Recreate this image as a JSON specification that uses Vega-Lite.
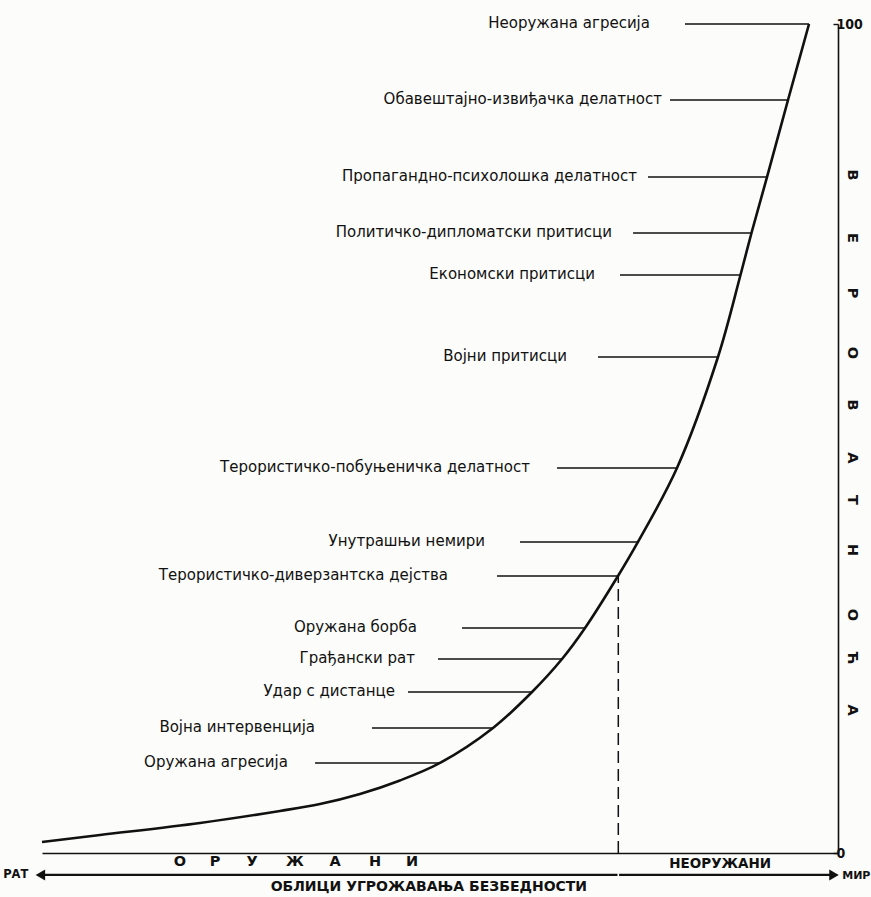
{
  "$schema": "https://vega.github.io/schema/vega-lite/v6.json",
  "width": 796,
  "height": 829,
  "autosize": {"type": "none"},
  "padding": {"left": 42, "top": 24, "right": 33, "bottom": 44},
  "background": "#fcfcfa",
  "config": {
    "view": {"stroke": null},
    "font": "DejaVu Sans",
    "axisY": {"labelFontSize": 14, "labelFont": "DejaVu Sans Condensed", "labelFontWeight": "bold", "labelColor": "#111"}
  },
  "datasets": {
    "curve": [
      {"x": 0, "y": 1.33},
      {"x": 7.29, "y": 2.17},
      {"x": 19.85, "y": 3.62},
      {"x": 29.9, "y": 5.07},
      {"x": 34.92, "y": 5.91},
      {"x": 39.95, "y": 7.12},
      {"x": 44.97, "y": 8.75},
      {"x": 50.0, "y": 10.86},
      {"x": 56.66, "y": 15.08},
      {"x": 61.56, "y": 19.42},
      {"x": 65.33, "y": 23.4},
      {"x": 68.22, "y": 27.14},
      {"x": 72.36, "y": 33.41},
      {"x": 74.87, "y": 37.52},
      {"x": 79.77, "y": 46.44},
      {"x": 84.92, "y": 59.83},
      {"x": 87.75, "y": 69.72},
      {"x": 89.13, "y": 74.79},
      {"x": 91.08, "y": 81.54},
      {"x": 93.72, "y": 90.83},
      {"x": 96.36, "y": 100}
    ],
    "forms": [
      {"label": "Неоружана агресија", "y": 100, "x0": 80.78, "x1": 96.36, "lx": 76.38},
      {"label": "Обавештајно-извиђачка делатност", "y": 90.83, "x0": 78.89, "x1": 93.72, "lx": 77.89},
      {"label": "Пропагандно-психолошка делатност", "y": 81.54, "x0": 76.13, "x1": 91.08, "lx": 74.75},
      {"label": "Политичко-дипломатски притисци", "y": 74.79, "x0": 74.25, "x1": 89.13, "lx": 71.61},
      {"label": "Економски притисци", "y": 69.72, "x0": 72.61, "x1": 87.75, "lx": 69.47},
      {"label": "Војни притисци", "y": 59.83, "x0": 69.85, "x1": 84.92, "lx": 65.95},
      {"label": "Терористичко-побуњеничка делатност", "y": 46.44, "x0": 64.7, "x1": 79.77, "lx": 61.31},
      {"label": "Унутрашњи немири", "y": 37.52, "x0": 60.05, "x1": 74.87, "lx": 55.65},
      {"label": "Терористичко-диверзантска дејства", "y": 33.41, "x0": 57.16, "x1": 72.36, "lx": 51.0},
      {"label": "Оружана борба", "y": 27.14, "x0": 52.76, "x1": 68.22, "lx": 47.11},
      {"label": "Грађански рат", "y": 23.4, "x0": 49.75, "x1": 65.33, "lx": 46.86},
      {"label": "Удар с дистанце", "y": 19.42, "x0": 45.98, "x1": 61.56, "lx": 44.35},
      {"label": "Војна интервенција", "y": 15.08, "x0": 41.46, "x1": 56.66, "lx": 34.3},
      {"label": "Оружана агресија", "y": 10.86, "x0": 34.3, "x1": 50.0, "lx": 30.9}
    ],
    "divider": [{"x": 72.4, "y": 0, "y2": 33.41}],
    "arrow": [
      {"x": 0, "x2": 72.3, "y": -2.65},
      {"x": 72.5, "x2": 99.6, "y": -2.65}
    ],
    "heads": [
      {"x": -0.2, "y": -2.65, "shape": "triangle-left"},
      {"x": 99.5, "y": -2.65, "shape": "triangle-right"}
    ],
    "armed": [
      {"t": "О", "x": 17.34},
      {"t": "Р", "x": 21.73},
      {"t": "У", "x": 26.38},
      {"t": "Ж", "x": 31.78},
      {"t": "А", "x": 36.81},
      {"t": "Н", "x": 41.83},
      {"t": "И", "x": 46.48}
    ],
    "bottomText": [
      {"t": "НЕОРУЖАНИ", "x": 85.2, "y": -1.3, "size": 13.5},
      {"t": "ОБЛИЦИ УГРОЖАВАЊА БЕЗБЕДНОСТИ", "x": 48.6, "y": -4.1, "size": 14},
      {"t": "РАТ", "x": -3.3, "y": -2.7, "size": 11.5},
      {"t": "МИР", "x": 102.3, "y": -2.75, "size": 11}
    ],
    "vtitle": [
      {"t": "В", "y": 81.79},
      {"t": "Е", "y": 74.19},
      {"t": "Р", "y": 67.55},
      {"t": "О", "y": 60.31},
      {"t": "В", "y": 54.04},
      {"t": "А", "y": 47.65},
      {"t": "Т", "y": 42.58},
      {"t": "Н", "y": 36.55},
      {"t": "О", "y": 28.71},
      {"t": "Ћ", "y": 23.52},
      {"t": "А", "y": 17.25}
    ]
  },
  "layer": [
    {
      "data": {"name": "curve"},
      "mark": {"type": "line", "interpolate": "catmull-rom", "color": "#111", "strokeWidth": 2.6, "clip": false},
      "encoding": {
        "x": {"field": "x", "type": "quantitative", "scale": {"domain": [0, 100], "nice": false, "zero": false},
              "axis": {"orient": "bottom", "labels": false, "ticks": false, "title": null, "grid": false, "domainColor": "#111", "domainWidth": 1.6}},
        "y": {"field": "y", "type": "quantitative", "scale": {"domain": [0, 100], "nice": false, "zero": false},
              "axis": {"orient": "right", "values": [0, 100], "title": null, "grid": false, "domainColor": "#111", "domainWidth": 1.6,
                       "tickColor": "#111", "tickSize": -5, "tickWidth": 1.4, "labelPadding": 3}}
      }
    },
    {
      "data": {"name": "forms"},
      "mark": {"type": "rule", "color": "#111", "strokeWidth": 1.5},
      "encoding": {
        "x": {"field": "x0", "type": "quantitative"},
        "x2": {"field": "x1"},
        "y": {"field": "y", "type": "quantitative"}
      }
    },
    {
      "data": {"name": "forms"},
      "mark": {"type": "text", "align": "right", "baseline": "middle", "fontSize": 15, "color": "#111", "dy": -1},
      "encoding": {
        "x": {"field": "lx", "type": "quantitative"},
        "y": {"field": "y", "type": "quantitative"},
        "text": {"field": "label"}
      }
    },
    {
      "data": {"name": "divider"},
      "mark": {"type": "rule", "color": "#111", "strokeWidth": 1.5, "strokeDash": [12, 6]},
      "encoding": {
        "x": {"field": "x", "type": "quantitative"},
        "y": {"field": "y", "type": "quantitative"},
        "y2": {"field": "y2"}
      }
    },
    {
      "data": {"name": "arrow"},
      "mark": {"type": "rule", "color": "#111", "strokeWidth": 2.2, "clip": false},
      "encoding": {
        "x": {"field": "x", "type": "quantitative"},
        "x2": {"field": "x2"},
        "y": {"field": "y", "type": "quantitative"}
      }
    },
    {
      "data": {"name": "heads"},
      "mark": {"type": "point", "filled": true, "color": "#111", "size": 120, "opacity": 1, "clip": false},
      "encoding": {
        "x": {"field": "x", "type": "quantitative"},
        "y": {"field": "y", "type": "quantitative"},
        "shape": {"field": "shape", "type": "nominal", "scale": null, "legend": null}
      }
    },
    {
      "data": {"name": "armed"},
      "mark": {"type": "text", "align": "center", "baseline": "middle", "fontSize": 14.5, "fontWeight": "bold", "color": "#111", "clip": false},
      "encoding": {
        "x": {"field": "x", "type": "quantitative"},
        "y": {"datum": -1.1, "type": "quantitative"},
        "text": {"field": "t"}
      }
    },
    {
      "data": {"name": "bottomText"},
      "mark": {"type": "text", "align": "center", "baseline": "middle", "fontWeight": "bold", "color": "#111", "clip": false},
      "encoding": {
        "x": {"field": "x", "type": "quantitative"},
        "y": {"field": "y", "type": "quantitative"},
        "text": {"field": "t"},
        "size": {"field": "size", "type": "quantitative", "scale": null, "legend": null}
      }
    },
    {
      "data": {"name": "vtitle"},
      "mark": {"type": "text", "align": "center", "baseline": "middle", "angle": 90, "fontSize": 14.5, "fontWeight": "bold", "color": "#111", "clip": false},
      "encoding": {
        "x": {"datum": 101.76, "type": "quantitative"},
        "y": {"field": "y", "type": "quantitative"},
        "text": {"field": "t"}
      }
    }
  ]
}
